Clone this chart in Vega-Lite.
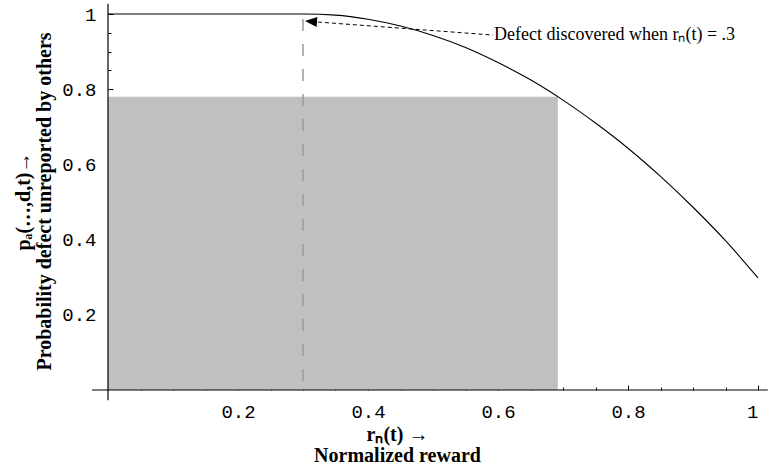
{
  "$schema": "https://vega.github.io/schema/vega-lite/v6.json",
  "width": 650,
  "height": 376,
  "autosize": {"type": "none"},
  "padding": {"left": 108, "top": 14, "right": 12, "bottom": 80},
  "background": "white",
  "config": {
    "view": {"stroke": null},
    "axis": {"grid": false, "domain": false, "zindex": 2, "tickColor": "black", "tickWidth": 1, "labelColor": "black", "titleColor": "black"}
  },
  "datasets": {
    "curve": [
      {"reward": 0.0, "prob": 1.0},
      {"reward": 0.3, "prob": 1.0},
      {"reward": 0.35, "prob": 0.997},
      {"reward": 0.4, "prob": 0.986},
      {"reward": 0.45, "prob": 0.968},
      {"reward": 0.5, "prob": 0.943},
      {"reward": 0.55, "prob": 0.911},
      {"reward": 0.6, "prob": 0.871},
      {"reward": 0.65, "prob": 0.825},
      {"reward": 0.7, "prob": 0.771},
      {"reward": 0.75, "prob": 0.71},
      {"reward": 0.8, "prob": 0.643},
      {"reward": 0.85, "prob": 0.568},
      {"reward": 0.9, "prob": 0.486},
      {"reward": 0.95, "prob": 0.397},
      {"reward": 1.0, "prob": 0.298}
    ],
    "region": [{"r_start": 0, "r_end": 0.692, "p_low": 0, "p_high": 0.78}],
    "marker": [{"reward": 0.3, "p_top": 0.987, "p_low": 0}],
    "note": [{"reward": 0.5923, "prob": 0.944, "tip_reward": 0.3123, "tip_prob": 0.98, "label": "Defect discovered when rₙ(t) = .3"}],
    "frame": [{"r_from": -0.0246, "r_to": 1.015, "p_from": -0.027, "p_to": 1.027, "origin": 0}]
  },
  "layer": [
    {
      "data": {"name": "region"},
      "mark": {"type": "rect", "color": "#c0c0c0"},
      "encoding": {
        "x": {"field": "r_start", "type": "quantitative", "scale": {"domain": [0, 1], "nice": false, "zero": false},
          "axis": {"orient": "bottom", "values": [0.2, 0.4, 0.6, 0.8, 1], "format": "~g", "offset": -5, "tickSize": 5, "labelPadding": 12,
            "labelFont": "Liberation Mono", "labelFontSize": 19, "labelFontWeight": "normal",
            "title": ["rₙ(t) →", "Normalized reward"], "titleFont": "Liberation Serif", "titleFontSize": 20, "titleFontWeight": "bold",
            "titleX": 289, "titleY": 55, "titleAlign": "center", "titleBaseline": "alphabetic", "titleLineHeight": 21}},
        "x2": {"field": "r_end"},
        "y": {"field": "p_low", "type": "quantitative", "scale": {"domain": [0, 1], "nice": false, "zero": false},
          "axis": {"orient": "left", "values": [0.2, 0.4, 0.6, 0.8, 1], "format": "~g", "offset": -5, "tickSize": 5, "labelPadding": 12,
            "labelFont": "Liberation Mono", "labelFontSize": 19, "labelFontWeight": "normal",
            "title": ["pₐ(…,d,t)→", "Probability defect unreported by others"], "titleFont": "Liberation Serif", "titleFontSize": 20, "titleFontWeight": "bold",
            "titleX": -84, "titleY": 187, "titleAngle": -90, "titleAlign": "center", "titleBaseline": "alphabetic", "titleLineHeight": 21}},
        "y2": {"field": "p_high"}
      }
    },
    {
      "data": {"name": "marker"},
      "mark": {"type": "rule", "color": "#9a9a9a", "strokeWidth": 1.5, "strokeDash": [12, 13]},
      "encoding": {
        "x": {"field": "reward", "type": "quantitative", "axis": null},
        "y": {"field": "p_top", "type": "quantitative", "axis": null},
        "y2": {"field": "p_low"}
      }
    },
    {
      "data": {"name": "curve"},
      "mark": {"type": "line", "color": "black", "strokeWidth": 1.1, "interpolate": "monotone"},
      "encoding": {
        "x": {"field": "reward", "type": "quantitative",
          "axis": {"orient": "bottom", "values": [0.05, 0.1, 0.15, 0.25, 0.3, 0.35, 0.45, 0.5, 0.55, 0.65, 0.7, 0.75, 0.85, 0.9, 0.95], "offset": -3, "tickSize": 3, "labels": false, "title": null}},
        "y": {"field": "prob", "type": "quantitative",
          "axis": {"orient": "left", "values": [0.05, 0.1, 0.15, 0.25, 0.3, 0.35, 0.45, 0.5, 0.55, 0.65, 0.7, 0.75, 0.85, 0.9, 0.95], "offset": -3, "tickSize": 3, "labels": false, "title": null}}
      }
    },
    {
      "data": {"name": "note"},
      "mark": {"type": "rule", "color": "black", "strokeWidth": 1, "strokeDash": [4, 3]},
      "encoding": {
        "x": {"field": "tip_reward", "type": "quantitative", "axis": null},
        "y": {"field": "tip_prob", "type": "quantitative", "axis": null},
        "x2": {"field": "reward"},
        "y2": {"field": "prob"}
      }
    },
    {
      "data": {"name": "note"},
      "mark": {"type": "point", "shape": "M -1 0 L 1 -0.83 L 1 0.83 Z", "size": 144, "filled": true, "color": "black", "opacity": 1, "angle": 4, "strokeWidth": 0},
      "encoding": {
        "x": {"field": "tip_reward", "type": "quantitative", "axis": null},
        "y": {"field": "tip_prob", "type": "quantitative", "axis": null}
      }
    },
    {
      "data": {"name": "note"},
      "mark": {"type": "text", "align": "left", "baseline": "middle", "font": "Liberation Serif", "fontSize": 18, "color": "black", "dx": 1},
      "encoding": {
        "x": {"field": "reward", "type": "quantitative", "axis": null},
        "y": {"field": "prob", "type": "quantitative", "axis": null},
        "text": {"field": "label"}
      }
    },
    {
      "data": {"name": "frame"},
      "mark": {"type": "rule", "color": "black", "strokeWidth": 1.2},
      "encoding": {
        "x": {"field": "r_from", "type": "quantitative", "axis": null},
        "x2": {"field": "r_to"},
        "y": {"field": "origin", "type": "quantitative", "axis": null}
      }
    },
    {
      "data": {"name": "frame"},
      "mark": {"type": "rule", "color": "black", "strokeWidth": 1.2},
      "encoding": {
        "x": {"field": "origin", "type": "quantitative", "axis": null},
        "y": {"field": "p_from", "type": "quantitative", "axis": null},
        "y2": {"field": "p_to"}
      }
    }
  ],
  "resolve": {"axis": {"x": "independent", "y": "independent"}}
}
